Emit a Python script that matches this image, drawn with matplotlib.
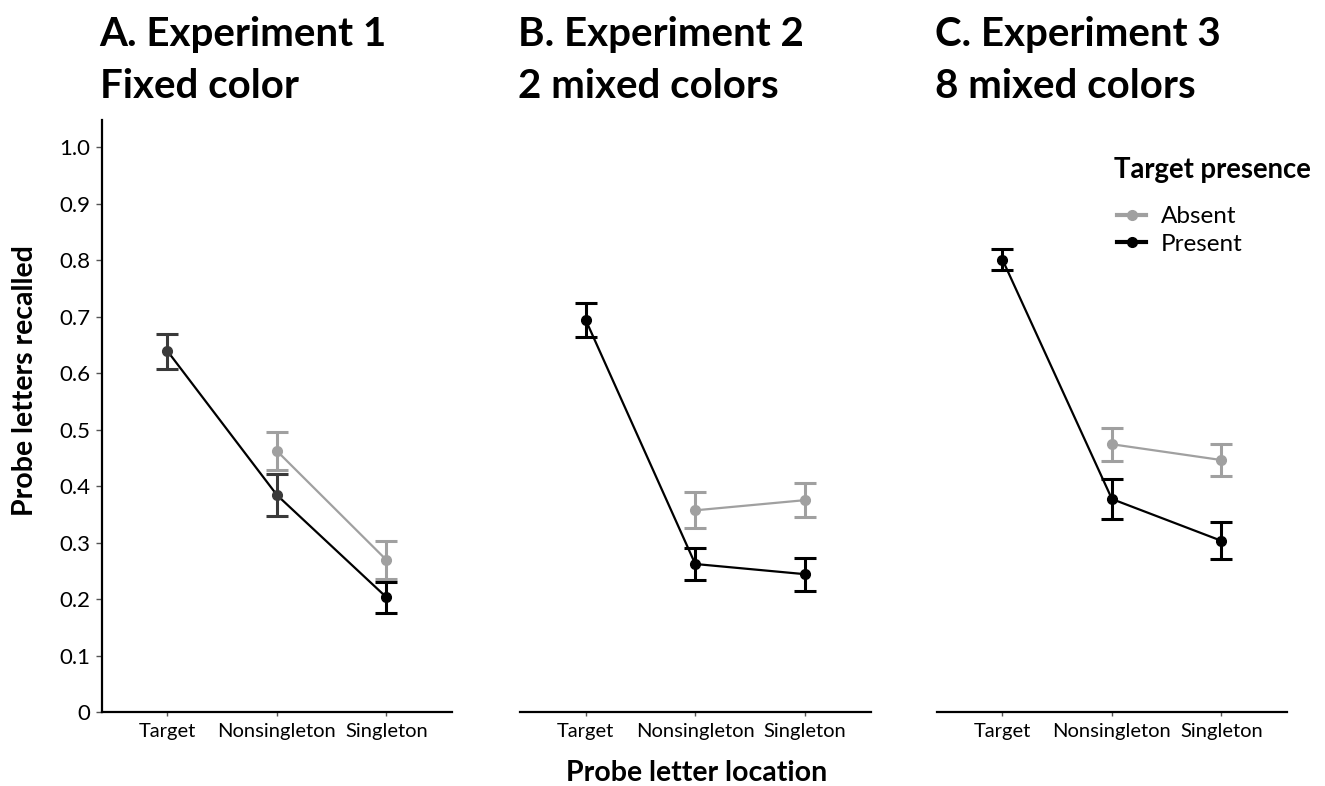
import matplotlib
matplotlib.use("Agg")
import matplotlib.pyplot as plt
from matplotlib.lines import Line2D

plt.rcParams['font.family'] = ['Lato', 'DejaVu Sans']

# ---------------- data ----------------
locations = ["Target", "Nonsingleton", "Singleton"]
panel_titles = ["A. Experiment 1\nFixed color",
                "B. Experiment 2\n2 mixed colors",
                "C. Experiment 3\n8 mixed colors"]

# Present (target present): Target, Nonsingleton, Singleton
present_A = [0.639, 0.384, 0.203]
present_A_err = [0.031, 0.037, 0.028]
present_B = [0.694, 0.262, 0.244]
present_B_err = [0.030, 0.028, 0.029]
present_C = [0.801, 0.377, 0.303]
present_C_err = [0.019, 0.036, 0.033]

# Absent (target absent): Nonsingleton, Singleton
absent_A = [0.462, 0.269]
absent_A_err = [0.034, 0.034]
absent_B = [0.357, 0.375]
absent_B_err = [0.032, 0.030]
absent_C = [0.474, 0.446]
absent_C_err = [0.029, 0.029]

yticks = [0, 0.1, 0.2, 0.3, 0.4, 0.5, 0.6, 0.7, 0.8, 0.9, 1.0]
ytick_labels = ["0", "0.1", "0.2", "0.3", "0.4", "0.5", "0.6", "0.7", "0.8", "0.9", "1.0"]

# ---------------- styles ----------------
GRAY = "#a0a0a0"
BLACK = "#000000"
present_colors = [["#3a3a3a", "#3a3a3a", BLACK], [BLACK] * 3, [BLACK] * 3]

W, H = 1325, 786
fig = plt.figure(figsize=(W / 100, H / 100), dpi=100)

lefts = [101.7, 520.0, 936.7]
ax_w = 350.5
ax_bottom = (H - 712) / H
ax_h = (712 - 120) / H

presents = [present_A, present_B, present_C]
present_errs = [present_A_err, present_B_err, present_C_err]
absents = [absent_A, absent_B, absent_C]
absent_errs = [absent_A_err, absent_B_err, absent_C_err]

x_all = [1, 2, 3]
x_abs = [2, 3]

axes = []
for i in range(3):
    ax = fig.add_axes([lefts[i] / W, ax_bottom, ax_w / W, ax_h])
    axes.append(ax)
    # absent series
    ax.plot(x_abs, absents[i], color=GRAY, lw=1.6, zorder=2)
    ax.errorbar(x_abs, absents[i], yerr=absent_errs[i], fmt='o', color=GRAY,
                ms=7, elinewidth=2.2, capsize=8, capthick=2.2, zorder=3)
    # present series
    ax.plot(x_all, presents[i], color=BLACK, lw=1.6, zorder=4)
    for xv, yv, ev, c in zip(x_all, presents[i], present_errs[i], present_colors[i]):
        ax.errorbar([xv], [yv], yerr=[ev], fmt='o', color=c, ms=7,
                    elinewidth=2.2, capsize=8, capthick=2.2, zorder=5)

    ax.set_xlim(0.4, 3.6)
    ax.set_ylim(0, 1.048)
    ax.set_xticks(x_all)
    ax.set_xticklabels(locations, fontsize=14.5)
    ax.tick_params(axis='x', length=3, width=1, color="#555555", pad=5)
    for s in ["top", "right"]:
        ax.spines[s].set_visible(False)
    ax.spines["bottom"].set_linewidth(1.6)
    if i == 0:
        ax.set_yticks(yticks)
        ax.set_yticklabels(ytick_labels, fontsize=16)
        ax.tick_params(axis='y', length=4, width=1, color="#555555", pad=4)
        ax.spines["left"].set_linewidth(1.6)
    else:
        ax.spines["left"].set_visible(False)
        ax.set_yticks([])
    ax.set_facecolor("none")

    # panel title
    l1, l2 = panel_titles[i].split("\n")
    fig.text((lefts[i] - 2) / W, 1 - 46 / H, l1, fontsize=29, fontweight='bold',
             ha='left', va='baseline')
    fig.text((lefts[i] - 2) / W, 1 - 98 / H, l2, fontsize=29, fontweight='bold',
             ha='left', va='baseline')

fig.text(25 / W, 1 - 381 / H, "Probe letters recalled", rotation=90,
         fontsize=20.5, fontweight='bold', ha='center', va='center')
fig.text(697 / W, 1 - 773 / H, "Probe letter location",
         fontsize=20.5, fontweight='bold', ha='center', va='center')

# legend
fig.text(1114 / W, 1 - 170 / H, "Target presence", fontsize=19.8,
         fontweight='bold', ha='left', va='center')
handles = [Line2D([0], [0], color=GRAY, lw=3, marker='o', ms=7),
           Line2D([0], [0], color=BLACK, lw=3, marker='o', ms=7)]
leg = axes[2].legend(handles, ["Absent", "Present"],
                     loc='upper left', bbox_to_anchor=(1117 / W, 1 - 206 / H),
                     bbox_transform=fig.transFigure, frameon=False,
                     fontsize=17.5, handlelength=1.2, handletextpad=0.6,
                     labelspacing=0.28, borderaxespad=0, borderpad=0)

fig.savefig("out.png", dpi=100)
